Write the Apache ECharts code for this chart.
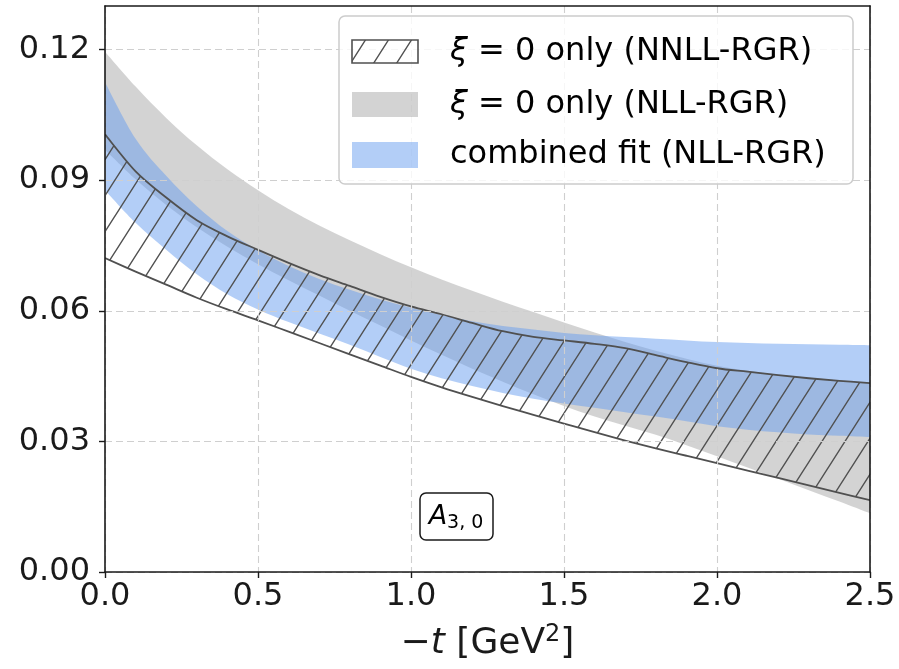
<!DOCTYPE html>
<html>
<head>
<meta charset="utf-8">
<script src="https://cdn.jsdelivr.net/npm/echarts@6/dist/echarts.min.js"></script>
<style>
  html, body { margin: 0; padding: 0; background: #ffffff; }
  #chart { width: 899px; height: 669px; }
</style>
</head>
<body>
<div id="chart"></div>
<script>
// -t grid (GeV^2) on which the bands are sampled
const tValues = [0.0, 0.1, 0.2, 0.3, 0.4, 0.5, 0.6, 0.7, 0.8, 0.9, 1.0, 1.1, 1.2,
                 1.3, 1.4, 1.5, 1.6, 1.7, 1.8, 1.9, 2.0, 2.1, 2.2, 2.3, 2.4, 2.5];

// xi = 0 only, NLL-RGR (grey band)
const nllLower = [0.0970, 0.0902, 0.0843, 0.0792, 0.0747, 0.0707, 0.0670, 0.0635, 0.0600,
                  0.0566, 0.0532, 0.0499, 0.0467, 0.0437, 0.0408, 0.0381, 0.0357, 0.0336,
                  0.0315, 0.0291, 0.0266, 0.0240, 0.0214, 0.0188, 0.0162, 0.0135];
const nllUpper = [0.1195, 0.1115, 0.1043, 0.0980, 0.0925, 0.0877, 0.0834, 0.0796, 0.0762,
                  0.0730, 0.0700, 0.0672, 0.0646, 0.0621, 0.0597, 0.0573, 0.0550, 0.0528,
                  0.0508, 0.0490, 0.0474, 0.0462, 0.0453, 0.0446, 0.0440, 0.0435];

// combined fit, NLL-RGR (blue band)
const combLower = [0.0877, 0.0802, 0.0740, 0.0684, 0.0638, 0.0603, 0.0574, 0.0548, 0.0522,
                   0.0494, 0.0467, 0.0445, 0.0427, 0.0411, 0.0398, 0.0387, 0.0377, 0.0367,
                   0.0357, 0.0346, 0.0335, 0.0327, 0.0321, 0.0316, 0.0313, 0.0310];
const combUpper = [0.1125, 0.0995, 0.0910, 0.0840, 0.0783, 0.0739, 0.0703, 0.0673, 0.0648,
                   0.0626, 0.0607, 0.0590, 0.0576, 0.0565, 0.0557, 0.0549, 0.0544, 0.0540,
                   0.0536, 0.0532, 0.0528, 0.0526, 0.0524, 0.0523, 0.0522, 0.0521];

// xi = 0 only, NNLL-RGR (hatched band)
const nnllLower = [0.0721, 0.0690, 0.0660, 0.0630, 0.0603, 0.0578, 0.0552, 0.0526, 0.0500,
                   0.0474, 0.0448, 0.0424, 0.0402, 0.0381, 0.0361, 0.0341, 0.0321, 0.0302,
                   0.0284, 0.0267, 0.0250, 0.0233, 0.0216, 0.0199, 0.0182, 0.0165];
const nnllUpper = [0.1005, 0.0920, 0.0860, 0.0808, 0.0771, 0.0740, 0.0710, 0.0682, 0.0657,
                   0.0632, 0.0610, 0.0592, 0.0572, 0.0553, 0.0540, 0.0532, 0.0524, 0.0514,
                   0.0498, 0.0482, 0.0468, 0.0460, 0.0452, 0.0445, 0.0439, 0.0434];

// axis ticks
const xTicks = [0.0, 0.5, 1.0, 1.5, 2.0, 2.5];
const yTicks = [0.00, 0.03, 0.06, 0.09, 0.12];

const FONT = 'DejaVu Sans';
const INK = '#1a1a1a';
const GREY_FILL = 'rgba(128,128,128,0.35)';
const BLUE_FILL = 'rgba(104,158,240,0.5)';
const HATCH_EDGE = '#505050';

// '/' hatch tile used for the NNLL band and its legend key
function makeHatch() {
  const w = 23, h = 36;
  const c = document.createElement('canvas');
  c.width = w; c.height = h;
  const g = c.getContext('2d');
  g.strokeStyle = HATCH_EDGE;
  g.lineWidth = 1.4;
  g.beginPath();
  g.moveTo(-w * 0.1, h * 1.1); g.lineTo(w * 1.1, -h * 0.1);
  g.moveTo(-w * 0.1, h * 0.1); g.lineTo(w * 0.1, -h * 0.1);
  g.moveTo(w * 0.9, h * 1.1); g.lineTo(w * 1.1, h * 0.9);
  g.stroke();
  return c;
}
const hatch = { image: makeHatch(), repeat: 'repeat' };

// Catmull-Rom curve through screen points, as SVG path commands (after the first point)
function curveCmds(pts) {
  let d = '';
  for (let i = 0; i < pts.length - 1; i++) {
    const p0 = pts[Math.max(i - 1, 0)], p1 = pts[i], p2 = pts[i + 1];
    const p3 = pts[Math.min(i + 2, pts.length - 1)];
    const c1x = p1[0] + (p2[0] - p0[0]) / 6, c1y = p1[1] + (p2[1] - p0[1]) / 6;
    const c2x = p2[0] - (p3[0] - p1[0]) / 6, c2y = p2[1] - (p3[1] - p1[1]) / 6;
    d += ' C' + c1x.toFixed(2) + ' ' + c1y.toFixed(2) + ' ' + c2x.toFixed(2) + ' ' +
         c2y.toFixed(2) + ' ' + p2[0].toFixed(2) + ' ' + p2[1].toFixed(2);
  }
  return d;
}
function moveTo(p) { return 'M' + p[0].toFixed(2) + ' ' + p[1].toFixed(2); }
function lineTo(p) { return ' L' + p[0].toFixed(2) + ' ' + p[1].toFixed(2); }

// one filled band between lower and upper, mapped through the cartesian axes
function bandSeries(key, lower, upper, fill, withEdges) {
  return {
    type: 'custom', name: key, silent: true, clip: true,
    xAxisIndex: 0, yAxisIndex: 0,
    data: tValues.map((t, i) => [t, lower[i], upper[i]]),
    encode: { x: 0, y: [1, 2] },
    renderItem: function (params, api) {
      if (params.dataIndexInside !== 0) return null;
      const n = params.dataInsideLength;
      const up = [], lo = [];
      for (let i = 0; i < n; i++) {
        const t = api.value(0, i);
        lo.push(api.coord([t, api.value(1, i)]));
        up.push(api.coord([t, api.value(2, i)]));
      }
      const loRev = lo.slice().reverse();
      const area = moveTo(up[0]) + curveCmds(up) + lineTo(loRev[0]) + curveCmds(loRev) + ' Z';
      const children = [{
        type: 'path',
        shape: { pathData: area },
        style: { fill: fill, stroke: null }
      }];
      if (withEdges) {
        [up, lo].forEach(pts => {
          children.push({
            type: 'path',
            shape: { pathData: moveTo(pts[0]) + curveCmds(pts) },
            style: { fill: null, stroke: HATCH_EDGE, lineWidth: 1.8, lineJoin: 'round' }
          });
        });
      }
      return { type: 'group', children: children };
    }
  };
}

const legendRows = [
  { fill: hatch, stroke: HATCH_EDGE, label: '{x|ξ}{n| = 0 only (NNLL-RGR)}', y: 40, h: 23 },
  { fill: GREY_FILL, stroke: null, label: '{x|ξ}{n| = 0 only (NLL-RGR)}', y: 92, h: 25 },
  { fill: BLUE_FILL, stroke: null, label: '{n|combined fit (NLL-RGR)}', y: 142, h: 26 }
];

const legendRich = {
  x: { fontFamily: FONT, fontStyle: 'italic', fontSize: 32, color: INK },
  n: { fontFamily: FONT, fontSize: 32, color: INK }
};

const graphics = [
  {
    type: 'rect', z: 100,
    shape: { x: 339, y: 16, width: 514, height: 168, r: 6 },
    style: { fill: 'rgba(255,255,255,0.8)', stroke: '#cccccc', lineWidth: 1.5 }
  }
];
legendRows.forEach(row => {
  graphics.push({
    type: 'rect', z: 101,
    shape: { x: 352, y: row.y, width: 66, height: row.h },
    style: row.stroke
      ? { fill: row.fill, stroke: row.stroke, lineWidth: 1.6 }
      : { fill: row.fill }
  });
  graphics.push({
    type: 'text', z: 101,
    x: 450, y: row.y + row.h / 2,
    style: { text: row.label, rich: legendRich, verticalAlign: 'middle', align: 'left' }
  });
});
// A_{3,0} tag
graphics.push({
  type: 'rect', z: 100,
  shape: { x: 420, y: 493, width: 73, height: 47, r: 6 },
  style: { fill: '#ffffff', stroke: INK, lineWidth: 1.5 }
});
graphics.push({
  type: 'text', z: 101,
  x: 456, y: 517,
  style: {
    text: '{a|A}{s|3, 0}',
    align: 'center', verticalAlign: 'middle',
    rich: {
      a: { fontFamily: FONT, fontStyle: 'italic', fontSize: 27, lineHeight: 32, color: INK },
      s: { fontFamily: FONT, fontSize: 19, lineHeight: 14, verticalAlign: 'bottom', color: INK }
    }
  }
});

const frameLine = { show: true, onZero: false, lineStyle: { color: INK, width: 1.6 } };
const tickStyle = { show: true, inside: false, length: 6, lineStyle: { color: INK, width: 1.4 } };
const gridLine = { show: true, lineStyle: { color: '#cfcfcf', type: [7, 4], width: 1.1 } };

const option = {
  animation: false,
  backgroundColor: '#ffffff',
  grid: { left: 105, right: 29, top: 6, bottom: 97, containLabel: false },
  xAxis: [
    {
      type: 'value', min: 0, max: 2.5, interval: 0.5, position: 'bottom', z: 10,
      axisLine: frameLine,
      axisTick: Object.assign({ customValues: xTicks }, tickStyle),
      axisLabel: {
        customValues: xTicks,
        fontFamily: FONT, fontSize: 32, color: INK, margin: 9,
        formatter: v => v.toFixed(1)
      },
      splitLine: gridLine,
      name: '{m|−}{i|t}{m| [GeV}{s|2}{m|]}',
      nameLocation: 'middle', nameGap: 51,
      nameTextStyle: {
        rich: {
          m: { fontFamily: FONT, fontSize: 36, lineHeight: 42, color: INK },
          i: { fontFamily: FONT, fontStyle: 'italic', fontSize: 36, lineHeight: 42, color: INK },
          s: { fontFamily: FONT, fontSize: 24, lineHeight: 30, verticalAlign: 'top', color: INK }
        }
      }
    },
    {
      type: 'value', min: 0, max: 2.5, position: 'top', z: 10,
      axisLine: frameLine, axisTick: { show: false },
      axisLabel: { show: false }, splitLine: { show: false }
    }
  ],
  yAxis: [
    {
      type: 'value', min: 0, max: 0.13, interval: 0.03, position: 'left', z: 10,
      axisLine: frameLine,
      axisTick: Object.assign({ customValues: yTicks }, tickStyle),
      axisLabel: {
        customValues: yTicks,
        fontFamily: FONT, fontSize: 32, color: INK, margin: 15,
        formatter: v => (Math.abs(v - 0.13) < 1e-9 ? '' : v.toFixed(2))
      },
      splitLine: gridLine
    },
    {
      type: 'value', min: 0, max: 0.13, position: 'right', z: 10,
      axisLine: frameLine, axisTick: { show: false },
      axisLabel: { show: false }, splitLine: { show: false }
    }
  ],
  series: [
    bandSeries('nll', nllLower, nllUpper, GREY_FILL, false),
    bandSeries('combined', combLower, combUpper, BLUE_FILL, false),
    bandSeries('nnll', nnllLower, nnllUpper, hatch, true)
  ],
  graphic: graphics
};

const chart = echarts.init(document.getElementById('chart'), null, { renderer: 'canvas' });
chart.setOption(option);
</script>
</body>
</html>
